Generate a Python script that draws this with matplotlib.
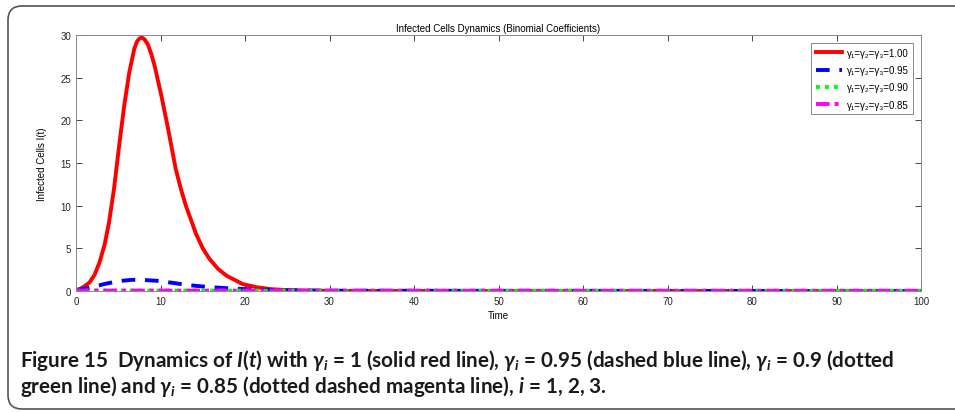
import matplotlib
matplotlib.use("Agg")
import matplotlib.pyplot as plt
import matplotlib.patches as mpatches
import matplotlib.transforms as mtransforms
import numpy as np

# data
t_red = [0, 0.5, 1.0, 1.6, 2.2, 2.8, 3.4, 3.9, 4.5, 5.1, 5.7, 6.3, 6.9, 7.2, 7.5, 7.8, 8.1, 8.5,
         8.9, 9.3, 10.1, 10.9, 11.8, 12.4, 13.0, 14.2, 15.0, 15.8, 16.8, 17.8, 19.7, 21.3, 23, 25,
         28, 32, 40, 100]
i_red = [0.1, 0.25, 0.55, 1.0, 1.9, 3.4, 5.5, 8.0, 12.0, 17.0, 21.7, 25.6, 28.4, 29.2, 29.6, 29.7,
         29.5, 28.9, 27.8, 26.4, 22.9, 19.0, 14.3, 12.0, 10.0, 6.7, 5.0, 3.75, 2.6, 1.8, 0.82, 0.45,
         0.22, 0.1, 0.04, 0.01, 0.0, 0.0]

t_blue = [0, 1.5, 3.5, 5, 6.5, 7.5, 9.5, 11.5, 13, 15.8, 18.9, 21, 25, 30, 100]
i_blue = [0.1, 0.35, 0.85, 1.15, 1.3, 1.32, 1.2, 0.95, 0.72, 0.45, 0.27, 0.18, 0.08, 0.03, 0.0]

t_green = [0, 10, 20, 50, 100]
i_green = [0.05, 0.05, 0.04, 0.03, 0.03]

t_mag = [0, 10, 20, 50, 100]
i_mag = [0.05, 0.05, 0.04, 0.03, 0.03]

labels = ['γ₁=γ₂=γ₃=1.00', 'γ₁=γ₂=γ₃=0.95', 'γ₁=γ₂=γ₃=0.90', 'γ₁=γ₂=γ₃=0.85']

plt.rcParams['font.family'] = ['Liberation Sans', 'DejaVu Sans']
plt.rcParams['mathtext.fontset'] = 'custom'
plt.rcParams['mathtext.rm'] = 'Lato:bold'
plt.rcParams['mathtext.it'] = 'Lato:italic:bold'

fig = plt.figure(figsize=(9.55, 4.14), dpi=100)
ax = fig.add_axes([0.0796, 0.2947, 0.8848, 0.6183])

ax.plot(t_red, i_red, color='#ff0000', lw=2.8, label=labels[0])
ax.plot(t_blue, i_blue, color='#0000ff', lw=2.8, ls=(0, (3.5, 2.5)), label=labels[1])
ax.plot(t_green, i_green, color='#00ff00', lw=2.8, ls=(0, (1, 1.3)), label=labels[2])
ax.plot(t_mag, i_mag, color='#ff00ff', lw=2.8, ls=(0, (3.5, 1.3, 1, 1.3)), label=labels[3])

ax.set_xlim(0, 100)
ax.set_ylim(0, 30)
ax.set_xticks(np.arange(0, 101, 10))
ax.set_yticks(np.arange(0, 31, 5))
ax.tick_params(direction='in', top=True, right=True, labelsize=7, colors='#262626',
               length=4, width=0.6)
for s in ax.spines.values():
    s.set_color('#8a8a8a')
    s.set_linewidth(0.7)

ax.set_xlabel('Time', fontsize=7, labelpad=3)
ax.set_ylabel('Infected Cells I(t)', fontsize=7, labelpad=10)
ax.set_title('Infected Cells Dynamics (Binomial Coefficients)', fontsize=7, pad=3)

leg = ax.legend(loc='upper right', fontsize=7, handlelength=2.6, borderaxespad=0.8,
                fancybox=False, edgecolor='#8a8a8a', framealpha=1, labelspacing=0.75,
                handletextpad=0.5, borderpad=0.5)
leg.get_frame().set_linewidth(0.7)

# rounded frame around the figure panel
frame = mpatches.FancyBboxPatch((8, 4), 980, 403, boxstyle='round,pad=0,rounding_size=14',
                                transform=mtransforms.IdentityTransform(),
                                fill=False, edgecolor='#555555', lw=1.2)
fig.patches.append(frame)

cap_kw = dict(fontsize=14.9, fontweight='bold', family='Lato', color='#1a1a1a')
fig.text(20 / 955, 1 - 367 / 414,
         r'Figure 15  Dynamics of $I$($t$) with $\gamma_i$ = 1 (solid red line), '
         r'$\gamma_i$ = 0.95 (dashed blue line), $\gamma_i$ = 0.9 (dotted',
         ha='left', va='baseline', **cap_kw)
fig.text(20 / 955, 1 - 393 / 414,
         r'green line) and $\gamma_i$ = 0.85 (dotted dashed magenta line), $i$ = 1, 2, 3.',
         ha='left', va='baseline', **cap_kw)

fig.savefig('out.png', dpi=100)
